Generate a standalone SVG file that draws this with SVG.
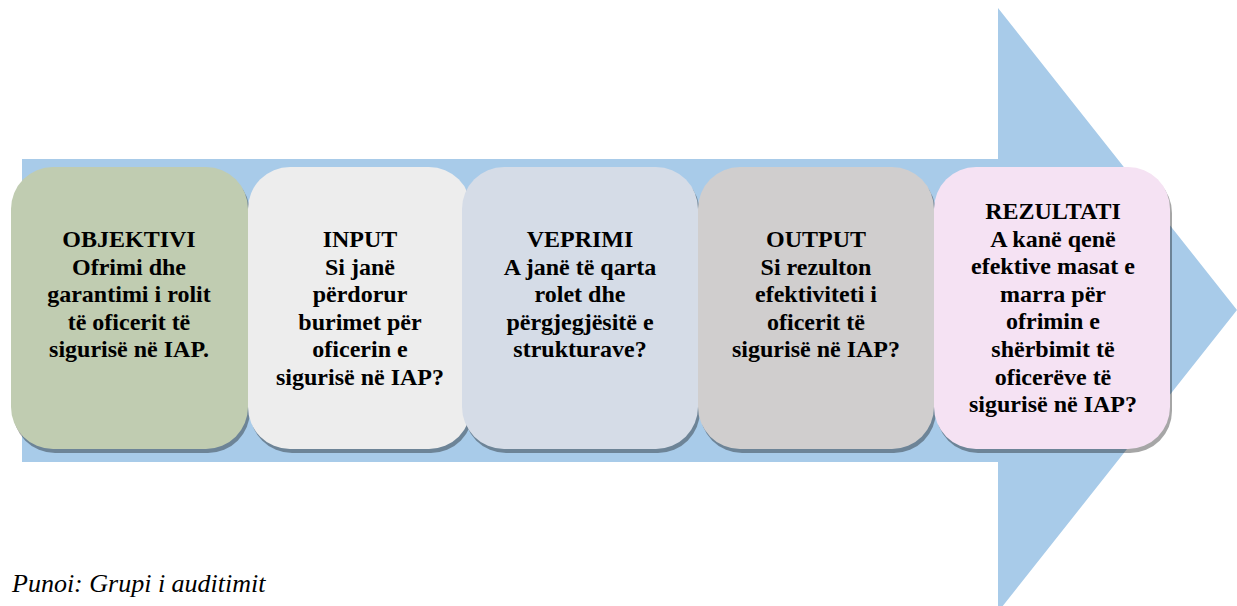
<svg xmlns="http://www.w3.org/2000/svg" width="1237" height="606" viewBox="0 0 1237 606">
<style>
.box{stroke:none}
.shadow{fill:#000;fill-opacity:0.35}
.t{font-family:'Liberation Serif','Times New Roman',serif;font-weight:700;font-size:24px;fill:#000;text-anchor:middle}
.note{font-family:'Liberation Serif','Times New Roman',serif;font-style:italic;font-size:26px;fill:#000}
</style>
<g id="arrow">
<polygon points="22,159 998,159 998,8 1237,310 998,612 998,462 22,462" fill="#a8cbe9"/>
</g>
<g id="connectors"></g>
<g id="n1">
<rect class="shadow" x="13" y="171" width="237" height="282" rx="42"/>
<rect class="box" x="11" y="167" width="237" height="282" rx="42" fill="#c0ccb1"/>
<text class="t"><tspan x="129" y="247">OBJEKTIVI</tspan><tspan x="129" y="274.6">Ofrimi dhe</tspan><tspan x="129" y="302.2">garantimi i rolit</tspan><tspan x="129" y="329.8">të oficerit të</tspan><tspan x="129" y="357.4">sigurisë në IAP.</tspan></text>
</g>
<g id="n2">
<rect class="shadow" x="250" y="171" width="223" height="282" rx="42"/>
<rect class="box" x="248" y="167" width="223" height="282" rx="42" fill="#ededed"/>
<text class="t"><tspan x="360" y="247">INPUT</tspan><tspan x="360" y="274.5">Si janë</tspan><tspan x="360" y="302">përdorur</tspan><tspan x="360" y="329.5">burimet për</tspan><tspan x="360" y="357">oficerin e</tspan><tspan x="360" y="384.5">sigurisë në IAP?</tspan></text>
</g>
<g id="n3">
<rect class="shadow" x="464" y="171" width="236" height="282" rx="42"/>
<rect class="box" x="462" y="167" width="236" height="282" rx="42" fill="#d5dce7"/>
<text class="t"><tspan x="580" y="247">VEPRIMI</tspan><tspan x="580" y="274.6">A janë të qarta</tspan><tspan x="580" y="302.2">rolet dhe</tspan><tspan x="580" y="329.8">përgjegjësitë e</tspan><tspan x="580" y="357.4">strukturave?</tspan></text>
</g>
<g id="n4">
<rect class="shadow" x="700" y="171" width="236" height="282" rx="42"/>
<rect class="box" x="698" y="167" width="236" height="282" rx="42" fill="#d0cece"/>
<text class="t"><tspan x="816" y="247">OUTPUT</tspan><tspan x="816" y="274.6">Si rezulton</tspan><tspan x="816" y="302.2">efektiviteti i</tspan><tspan x="816" y="329.8">oficerit të</tspan><tspan x="816" y="357.4">sigurisë në IAP?</tspan></text>
</g>
<g id="n5">
<rect class="shadow" x="936" y="171" width="236" height="282" rx="42"/>
<rect class="box" x="934" y="167" width="236" height="282" rx="42" fill="#f5e2f3"/>
<text class="t"><tspan x="1053" y="219">REZULTATI</tspan><tspan x="1053" y="246.6">A kanë qenë</tspan><tspan x="1053" y="274.2">efektive masat e</tspan><tspan x="1053" y="301.8">marra për</tspan><tspan x="1053" y="329.4">ofrimin e</tspan><tspan x="1053" y="357">shërbimit të</tspan><tspan x="1053" y="384.6">oficerëve të</tspan><tspan x="1053" y="412.2">sigurisë në IAP?</tspan></text>
</g>
<text class="note" x="12" y="592">Punoi: Grupi i auditimit</text>
</svg>
